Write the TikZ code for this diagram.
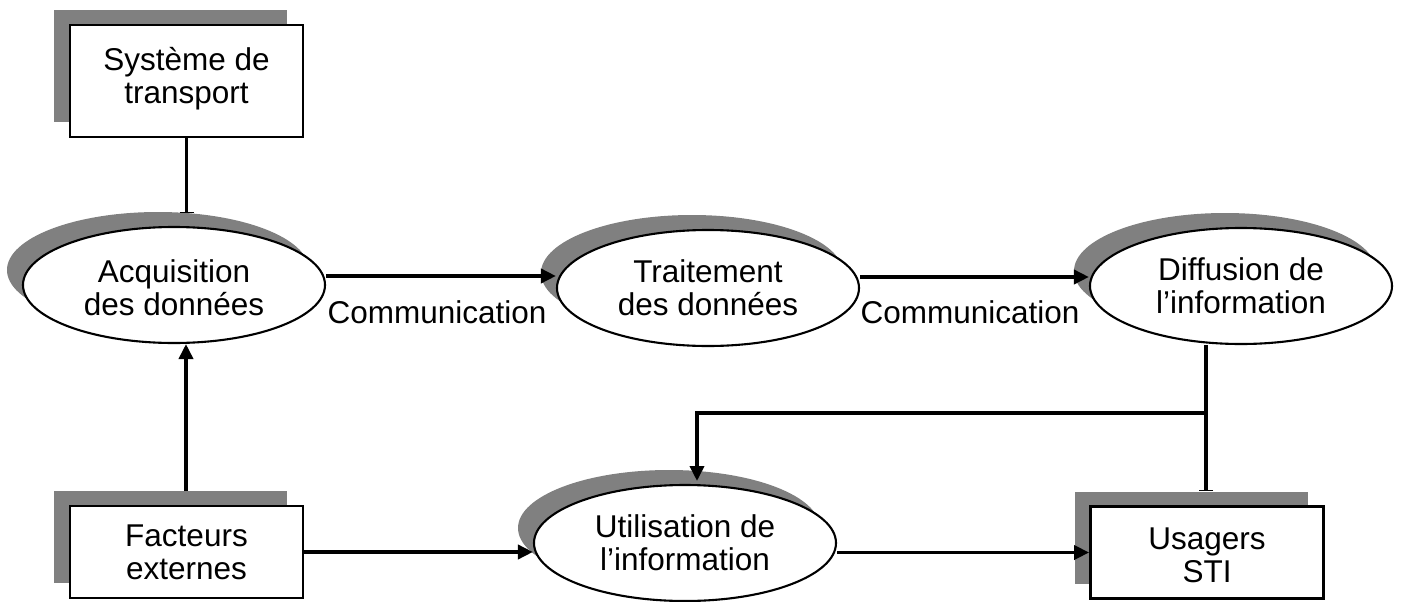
\documentclass[tikz,border=0pt]{standalone}
\usepackage{fontspec}
\setmainfont{Liberation Sans}
\usetikzlibrary{shapes.geometric,shadows,arrows.meta}
\definecolor{shadowgray}{HTML}{808080}
\begin{document}
\begin{tikzpicture}[x=1pt,y=-1pt,
  txt/.style={font=\fontsize{31.5pt}{33pt}\selectfont, align=center, inner sep=0pt},
  shad/.style={general shadow={fill=shadowgray, shadow xshift=-16pt, shadow yshift=15pt}},
  boxnode/.style={draw=black, line width=2.8pt, fill=white, shad, minimum width=233pt, inner sep=0pt},
  ellnode/.style={ellipse, draw=black, line width=2.1pt, fill=white, shad, minimum width=302pt, minimum height=116pt, inner sep=0pt},
  conn/.style={line width=3.6pt},
  arr/.style={conn, -{Triangle[length=15pt,width=14pt]}},
  barend/.style={conn, -{Bar[width=14pt,line width=1.5pt]}}
]
\useasboundingbox (0,0) rectangle (1402,602);

% boxes
\node[boxnode, minimum height=112pt] (sys) at (186.5,81) {};
\node[txt] (systxt) at ([yshift=2pt]sys.center) {Système de\\transport};
\node[boxnode, minimum height=92pt] (fact) at (186.5,552) {};
\node[txt] (facttxt) at (fact.center) {Facteurs\\externes};
\node[boxnode, minimum height=92pt] (usag) at (1207,552.5) {};
\node[txt] (usagtxt) at ([yshift=-3pt]usag.center) {Usagers\\STI};

% ellipses
\node[ellnode] (acq) at (174,285) {};
\node[txt] (acqtxt) at ([yshift=-3pt]acq.center) {Acquisition\\des données};
\node[ellnode] (trait) at (708,288) {};
\node[txt] (traittxt) at (trait.center) {Traitement\\des données};
\node[ellnode] (diff) at (1241,286) {};
\node[txt] (difftxt) at (diff.center) {Diffusion de\\l’information};
\node[ellnode] (util) at (685,543) {};
\node[txt] (utiltxt) at (util.center) {Utilisation de\\l’information};

% labels
\node[txt] (com1) at (437,312) {Communication};
\node[txt] (com2) at (970,312) {Communication};

% coordinates
\coordinate (acqtop) at (186.5,213);
\coordinate (factsh) at (186,491);
\coordinate (acqbot) at (186,344);
\coordinate (diffbot) at (1206,345);
\coordinate (j) at (1206,413);
\coordinate (k) at (697,413);
\coordinate (utiltop) at (697,481);
\coordinate (usagtop) at (1206,491);

% connectors
\draw[barend] (sys.south) -- (acqtop);
\draw[arr] (factsh) -- (acqbot);
\draw[arr] ([yshift=9pt]acq.east) -- ([yshift=9pt]acq.east -| trait.west);
\draw[arr] ([yshift=11pt]trait.east) -- ([yshift=11pt]trait.east -| diff.west);
\draw[conn] (diffbot) -- (j);
\draw[barend] (j) -- (usagtop);
\draw[arr] (j) -- (k) -- (utiltop);
\draw[arr] (fact.east) -- (fact.east -| util.west);
\draw[arr] (usag.west -| util.east) -- (usag.west);
\end{tikzpicture}
\end{document}
